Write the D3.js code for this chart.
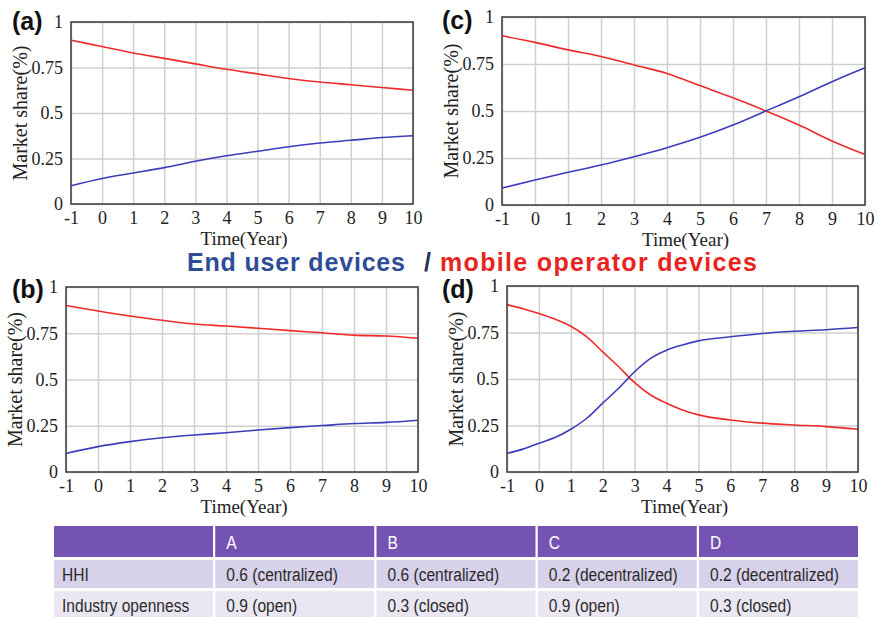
<!DOCTYPE html>
<html>
<head>
  <meta charset="utf-8">
  <style>
    * { margin: 0; padding: 0; box-sizing: border-box; }
    body { background: #fff; }
    svg { display: block; }
  </style>
</head>
<body>
  <div id="chart"></div>
  <script src="https://cdn.jsdelivr.net/npm/d3@7"></script>
  <script>
    // time axis (years); panel d is read every half year because of its S-shape
    const years = [-1, 0, 1, 2, 3, 4, 5, 6, 7, 8, 9, 10];
    const yearsHalf = [-1, -0.5, 0, 0.5, 1, 1.5, 2, 2.5, 3, 3.5, 4, 4.5, 5, 6, 7, 8, 9, 10];
    const xTicks = [-1, 0, 1, 2, 3, 4, 5, 6, 7, 8, 9, 10];
    const yTicks = [0, 0.25, 0.5, 0.75, 1];
    const yTickLabels = ['0', '0.25', '0.5', '0.75', '1'];

    // market share, end user devices (blue) vs mobile operator devices (red)
    const aEndUser  = [0.10, 0.14, 0.17, 0.20, 0.235, 0.265, 0.29, 0.315, 0.335, 0.35, 0.365, 0.375];
    const aOperator = [0.90, 0.865, 0.83, 0.80, 0.77, 0.74, 0.715, 0.69, 0.67, 0.655, 0.64, 0.625];
    const bEndUser  = [0.10, 0.137, 0.164, 0.185, 0.20, 0.212, 0.227, 0.24, 0.251, 0.262, 0.268, 0.28];
    const bOperator = [0.90, 0.87, 0.843, 0.82, 0.80, 0.789, 0.777, 0.764, 0.753, 0.74, 0.735, 0.723];
    const cEndUser  = [0.09, 0.133, 0.174, 0.213, 0.257, 0.305, 0.36, 0.425, 0.50, 0.576, 0.656, 0.73];
    const cOperator = [0.90, 0.865, 0.825, 0.79, 0.745, 0.70, 0.635, 0.57, 0.50, 0.425, 0.34, 0.268];
    const dEndUser  = [0.10, 0.123, 0.155, 0.185, 0.23, 0.289, 0.37, 0.45, 0.539, 0.611, 0.655, 0.683, 0.705, 0.727, 0.745, 0.757, 0.765, 0.777];
    const dOperator = [0.90, 0.878, 0.852, 0.822, 0.784, 0.727, 0.646, 0.566, 0.48, 0.414, 0.37, 0.334, 0.307, 0.28, 0.263, 0.253, 0.244, 0.23];

    const legendEnd = 'End user devices';
    const legendSlash = '/';
    const legendOperator = 'mobile operator devices';

    // table under the charts
    const tableHeader = ['', 'A', 'B', 'C', 'D'];
    const rowLabels = ['HHI', 'Industry openness'];
    const hhiValues = ['0.6 (centralized)', '0.6 (centralized)', '0.2 (decentralized)', '0.2 (decentralized)'];
    const opennessValues = ['0.9 (open)', '0.3 (closed)', '0.9 (open)', '0.3 (closed)'];

    const width = 878, height = 617;
    const BLUE = '#3c3cbc', RED = '#ef2a2a';
    const serif = '"Liberation Serif", "Times New Roman", serif';
    const sans = '"Liberation Sans", Arial, sans-serif';

    const panels = [
      { tag: '(a)', xs: years, blue: aEndUser, red: aOperator, box: [71, 413, 22, 204], tagPos: [12, 30] },
      { tag: '(c)', xs: years, blue: cEndUser, red: cOperator, box: [502, 865, 17, 205], tagPos: [442, 29] },
      { tag: '(b)', xs: years, blue: bEndUser, red: bOperator, box: [66, 418, 287, 472], tagPos: [12, 298] },
      { tag: '(d)', xs: yearsHalf, blue: dEndUser, red: dOperator, box: [507, 858, 286, 472], tagPos: [442, 298] }
    ];

    const svg = d3.select('#chart').append('svg')
      .attr('width', width).attr('height', height)
      .attr('viewBox', [0, 0, width, height]);

    function serifText(s, size) {
      s.selectAll('text').style('font-family', serif).style('font-size', size + 'px').attr('fill', '#222');
    }

    function drawPanel(p) {
      const [left, right, top, bottom] = p.box;
      const x = d3.scaleLinear().domain([-1, 10]).range([left, right]);
      const y = d3.scaleLinear().domain([0, 1]).range([bottom, top]);
      const g = svg.append('g');

      // grid
      g.append('g').attr('transform', 'translate(0,' + bottom + ')')
        .call(d3.axisBottom(x).tickValues(xTicks).tickSize(-(bottom - top)).tickFormat(''))
        .call(s => s.select('.domain').remove())
        .call(s => s.selectAll('line').attr('stroke', '#cfcfcf').attr('stroke-width', 1.5));
      g.append('g').attr('transform', 'translate(' + left + ',0)')
        .call(d3.axisLeft(y).tickValues(yTicks).tickSize(-(right - left)).tickFormat(''))
        .call(s => s.select('.domain').remove())
        .call(s => s.selectAll('line').attr('stroke', '#cfcfcf').attr('stroke-width', 1.5));

      // tick labels
      g.append('g').attr('transform', 'translate(0,' + bottom + ')')
        .call(d3.axisBottom(x).tickValues(xTicks).tickSize(0).tickPadding(7).tickFormat(d => String(d)))
        .call(s => s.select('.domain').remove())
        .call(s => serifText(s, 18));
      g.append('g').attr('transform', 'translate(' + left + ',0)')
        .call(d3.axisLeft(y).tickValues(yTicks).tickSize(0).tickPadding(8)
          .tickFormat((d, i) => yTickLabels[i]))
        .call(s => s.select('.domain').remove())
        .call(s => serifText(s, 18));

      // series
      const line = d3.line().curve(d3.curveMonotoneX)
        .x((d, i) => x(p.xs[i])).y(d => y(d));
      g.append('path').attr('d', line(p.red)).attr('fill', 'none')
        .attr('stroke', RED).attr('stroke-width', 1.6);
      g.append('path').attr('d', line(p.blue)).attr('fill', 'none')
        .attr('stroke', BLUE).attr('stroke-width', 1.6);

      // frame
      g.append('rect').attr('x', left).attr('y', top)
        .attr('width', right - left).attr('height', bottom - top)
        .attr('fill', 'none').attr('stroke', '#444').attr('stroke-width', 1.6);

      // axis titles
      g.append('text').attr('x', (left + right) / 2 + 2).attr('y', bottom + 41)
        .attr('text-anchor', 'middle').style('font-family', serif).style('font-size', '19px')
        .attr('fill', '#222').text('Time(Year)');
      g.append('text')
        .attr('transform', 'translate(' + (left - 44) + ',' + (top + bottom) / 2 + ') rotate(-90)')
        .attr('text-anchor', 'middle').style('font-family', serif).style('font-size', '20px')
        .attr('fill', '#222').text('Market share(%)');

      // panel tag
      g.append('text').attr('x', p.tagPos[0]).attr('y', p.tagPos[1])
        .style('font-family', sans).attr('font-weight', 'bold').style('font-size', '25px')
        .attr('fill', '#111').text(p.tag);
    }

    panels.forEach(drawPanel);

    // legend line in the middle (widths stretched to match the spaced-out lettering)
    const legendParts = [
      { text: legendEnd, x: 187, len: 218, fill: '#2f4c98' },
      { text: legendSlash, x: 424, len: 8, fill: '#2a2f55' },
      { text: legendOperator, x: 440, len: 317, fill: '#e9231e' }
    ];
    svg.append('g').selectAll('text').data(legendParts).join('text')
      .attr('x', d => d.x).attr('y', 271)
      .attr('textLength', d => d.len).attr('lengthAdjust', 'spacing')
      .style('font-family', sans).attr('font-weight', 'bold').style('font-size', '25px')
      .attr('fill', d => d.fill).text(d => d.text);

    // table
    const col = d3.scaleBand().domain(d3.range(tableHeader.length)).range([54, 858]).paddingInner(0.014);
    const rows = [
      { cells: tableHeader, top: 526, h: 31, fill: '#7453b2', color: '#fff' },
      { cells: [rowLabels[0]].concat(hhiValues), top: 560, h: 28, fill: '#d7d1e9', color: '#2a2a2a' },
      { cells: [rowLabels[1]].concat(opennessValues), top: 591, h: 28, fill: '#eae7f3', color: '#2a2a2a' }
    ];
    const table = svg.append('g');
    rows.forEach(r => {
      const rg = table.append('g');
      rg.selectAll('rect').data(r.cells).join('rect')
        .attr('x', (d, i) => col(i)).attr('y', r.top)
        .attr('width', col.bandwidth()).attr('height', r.h)
        .attr('fill', r.fill);
      // narrow face: Liberation Sans squeezed horizontally
      rg.selectAll('text').data(r.cells).join('text')
        .attr('transform', (d, i) => 'translate(' + (col(i) + (i === 0 ? 8 : 11)) + ',' + (r.top + r.h / 2 + 7) + ') scale(0.82,1)')
        .style('font-family', sans).style('font-size', '19px')
        .attr('fill', r.color).text(d => d);
    });
  </script>
</body>
</html>
